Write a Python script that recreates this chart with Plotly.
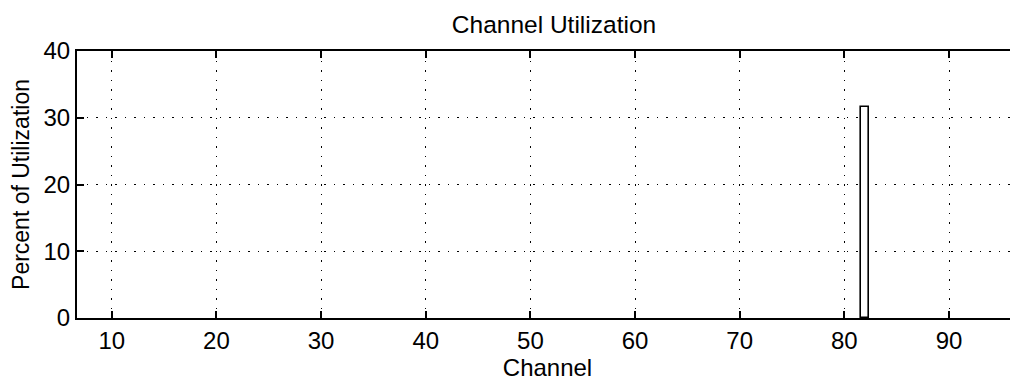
import plotly.graph_objects as go

channels = list(range(1, 97))
utilization = [0.0] * len(channels)
utilization[channels.index(82)] = 31.6

x_ticks = [10, 20, 30, 40, 50, 60, 70, 80, 90]
y_ticks = [0, 10, 20, 30, 40]

# page body has an 8px default margin, so the figure is offset by 8px
W, H = 1010, 375

fig = go.Figure()
fig.add_trace(go.Bar(
    x=channels, y=utilization, width=0.8,
    marker=dict(color="white",
                line=dict(color="black",
                          width=[1.6 if v > 0 else 0 for v in utilization])),
    showlegend=False,
))

font_family = "Liberation Sans, Arial, Helvetica, sans-serif"
dots = "1.5px,8px"
fig.update_layout(
    width=W, height=H,
    margin=dict(l=69, r=0, t=43, b=65),
    paper_bgcolor="white", plot_bgcolor="white",
    font=dict(family=font_family, color="black", size=24),
    title=dict(text="Channel Utilization", xref="container", x=546 / W,
               xanchor="center", yref="container", y=1 - 16 / H,
               yanchor="middle", font=dict(size=24.5)),
    xaxis=dict(
        range=[6.68, 96.59], tickvals=x_ticks, ticks="inside", ticklen=7,
        tickwidth=1.5, tickcolor="black", showline=True, linecolor="black",
        linewidth=2, mirror="ticks", showgrid=True, gridcolor="black",
        griddash=dots, gridwidth=1.2, zeroline=False,
        title=dict(text="Channel", standoff=2, font=dict(size=24)),
    ),
    yaxis=dict(
        range=[0, 40], tickvals=y_ticks, ticks="inside", ticklen=7,
        tickwidth=1.5, tickcolor="black", showline=True, linecolor="black",
        linewidth=2, showgrid=True, gridcolor="black", griddash=dots,
        gridwidth=1.2, zeroline=False,
        title=dict(text="Percent of Utilization", standoff=8, font=dict(size=23)),
    ),
    bargap=0,
)

fig.write_html("out.html")
